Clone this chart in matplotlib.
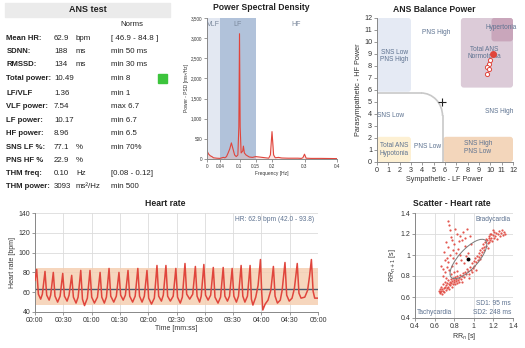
import numpy as np
import matplotlib
matplotlib.use('Agg')
import matplotlib.pyplot as plt
from matplotlib.patches import FancyBboxPatch, Ellipse, Arc, Rectangle

plt.rcParams['font.family'] = ['Liberation Sans', 'DejaVu Sans']

# ---- table data ----
labels = ['Mean HR:', 'SDNN:', 'RMSSD:', 'Total power:', 'LF/VLF', 'VLF power:',
          'LF power:', 'HF power:', 'SNS LF %:', 'PNS HF %', 'THM freq:', 'THM power:']
values = ['62.9', '188', '134', '10.49', '1.36', '7.54', '10.17', '8.96',
          '77.1', '22.9', '0.10', '3093']
units = ['bpm', 'ms', 'ms', '', '', '', '', '', '%', '%', 'Hz', 'ms²/Hz']
norms = ['[ 46.9 - 84.8 ]', 'min 50 ms', 'min 30 ms', 'min 8', 'min 1', 'max 6.7',
         'min 6.7', 'min 6.5', 'min 70%', '', '[0.08 - 0.12]', 'min 500']

# ---- PSD ----
freq = [0, 0.005, 0.01, 0.015, 0.02, 0.03, 0.04, 0.05, 0.055, 0.06, 0.065, 0.07,
        0.075, 0.08, 0.085, 0.09, 0.095, 0.098, 0.1, 0.102, 0.105, 0.11, 0.112,
        0.115, 0.12, 0.13, 0.14, 0.15, 0.16, 0.17, 0.18, 0.19, 0.195, 0.2, 0.205,
        0.21, 0.22, 0.23, 0.25, 0.28, 0.29, 0.295, 0.3, 0.305, 0.32, 0.35, 0.4]
psd = [200, 120, 80, 60, 30, 20, 15, 40, 30, 60, 150, 250, 400, 250, 100, 60, 100,
       800, 3110, 800, 150, 200, 320, 150, 100, 50, 40, 60, 50, 40, 30, 20, 100, 680,
       100, 30, 40, 25, 20, 20, 15, 30, 120, 20, 15, 15, 10]
psd_bands = [('VLF', 0, 0.04, '#e3e8f2'), ('LF', 0.04, 0.15, '#b1c2da'), ('HF', 0.15, 0.4, 'white')]

# ---- ANS balance ----
ans_regions = [  # x0, y0, x1, y1, color
    (0, 5.85, 3.0, 12, '#e5eaf4'),
    (7.4, 6.2, 12, 12, '#dccbd8'),
    (10.1, 10.05, 12, 12, '#c9a6bb'),
    (0, 0, 3.0, 2.1, '#fdf0d3'),
    (5.85, 0, 12, 2.1, '#f3d6bb'),
]
ans_labels = [('SNS Low\nPNS High', 1.55, 8.85), ('PNS High', 5.25, 10.8),
              ('Hypertonia', 11.0, 11.2), ('Total ANS\nNormotonia', 9.5, 9.1),
              ('SNS Low', 1.2, 3.85), ('SNS High', 10.8, 4.2),
              ('Total ANS\nHypotonia', 1.5, 1.05), ('PNS Low', 4.45, 1.25),
              ('SNS High\nPNS Low', 8.9, 1.2)]
ans_now = (10.26, 8.97)
ans_prev_x = [9.97, 9.85, 9.68, 9.88, 9.73]
ans_prev_y = [8.50, 8.20, 7.94, 7.72, 7.31]

# ---- heart rate ----
hr_t = [0, 1.8, 3.6, 6, 7.8,
        10.6, 12.4, 15, 16.6,
        19.4, 21.2, 24, 26.6,
        29.4, 31.2, 34, 36.1,
        38.9, 40.7, 43.5, 45.7,
        48.5, 50.3, 52.5, 55.5,
        58.3, 60.1, 63, 66.2,
        69, 70.8, 73.5, 75.7,
        78.5, 80.3, 83.5, 86.2,
        89, 90.8, 93.5, 95.8,
        98.6, 100.4, 103.5, 106.2,
        109, 110.8, 113.5, 115.9,
        118.7, 120.5, 123.5, 126.5,
        129.3, 131.1, 134, 136,
        138.8, 140.6, 143.5, 146.5,
        149.3, 151.1, 154, 156.2,
        159, 160.8, 164, 167.2,
        170, 171.8, 174.5, 176.2,
        179, 180.8, 183.5, 186.2,
        189, 190.8, 194, 196.7,
        199.5, 201.3, 204, 206.2,
        209, 210.8, 213.5, 215.7,
        218.5, 220.3, 222.5, 225.2,
        228, 229.4, 231, 234, 236.5,
        239, 240.3, 241.5, 244, 247, 250,
        252.7, 254.5, 257, 260, 262,
        265, 266.8, 269.5, 272.5, 275,
        278, 279.8, 282, 286, 289, 291,
        293, 294.8, 296.5, 300]
hr = [72, 83, 58, 53, 58,
      81, 57, 52, 57,
      80, 56, 50, 56,
      79, 56, 51, 57,
      77, 55, 49, 55,
      82, 53, 46.5, 54,
      82, 55, 49, 55,
      80, 55, 49, 55,
      84, 56, 50, 56,
      80, 57, 52, 57,
      82, 56, 50, 56,
      84, 56, 50, 56,
      82, 54, 48, 54,
      87, 56, 51, 57,
      87, 56, 51, 56,
      84, 55, 49, 55,
      89, 58, 53, 58,
      86, 56, 50, 56,
      88, 57, 52, 57,
      85, 55, 49, 55,
      85, 56, 51, 56,
      84, 56, 50, 56,
      87, 56, 50, 56,
      87, 53, 47, 55, 67,
      93, 60, 42, 48, 52, 62,
      86, 56, 49, 52, 62,
      90, 57, 51, 54, 64,
      89, 59, 54, 55, 62, 76,
      93, 61, 54, 54]
hr_mean = 62.9
hr_norm = (46.9, 84.8)

# ---- Poincare scatter ----
rr_pts = [
    (0.64, 0.66), (0.65, 0.64), (0.66, 0.68), (0.66, 0.65), (0.67, 0.70), (0.67, 0.66),
    (0.68, 0.63), (0.68, 0.68), (0.69, 0.72), (0.69, 0.66), (0.70, 0.69), (0.70, 0.65),
    (0.71, 0.74), (0.71, 0.70), (0.72, 0.67), (0.72, 0.71), (0.73, 0.69), (0.73, 0.73),
    (0.74, 0.76), (0.74, 0.70), (0.75, 0.72), (0.75, 0.68), (0.76, 0.74), (0.76, 0.71),
    (0.77, 0.77), (0.77, 0.73), (0.78, 0.70), (0.78, 0.75), (0.79, 0.72), (0.79, 0.78),
    (0.80, 0.74), (0.80, 0.76), (0.81, 0.72), (0.81, 0.79), (0.82, 0.75), (0.82, 0.77),
    (0.83, 0.73), (0.83, 0.80), (0.84, 0.76), (0.85, 0.78), (0.85, 0.74), (0.86, 0.81),
    (0.87, 0.77), (0.88, 0.80), (0.89, 0.83), (0.90, 0.79),
    (0.91, 0.84), (0.92, 0.82), (0.93, 0.87), (0.94, 0.85), (0.95, 0.82), (0.96, 0.89),
    (0.97, 0.86), (0.98, 0.92), (0.99, 0.88), (1.00, 0.94), (1.00, 0.90), (1.01, 0.97),
    (1.02, 0.93), (1.03, 0.99), (1.04, 0.95), (1.05, 1.02), (1.05, 0.98), (1.06, 1.05),
    (1.07, 1.00), (1.08, 1.07), (1.08, 1.03), (1.09, 1.10), (1.10, 1.05), (1.10, 1.08),
    (1.11, 1.12), (1.12, 1.09), (1.13, 1.14), (1.14, 1.11), (1.15, 1.16), (1.15, 1.12),
    (1.16, 1.18), (1.17, 1.14), (1.18, 1.20), (1.18, 1.16), (1.19, 1.13), (1.20, 1.19),
    (1.21, 1.22), (1.21, 1.16), (1.22, 1.18), (1.23, 1.21), (1.24, 1.15), (1.25, 1.20),
    (1.26, 1.23), (1.27, 1.18), (1.28, 1.21), (1.29, 1.24), (1.30, 1.19), (1.31, 1.22),
    (1.32, 1.20), (1.12, 1.15), (1.17, 1.20), (1.20, 1.24), (1.14, 1.07), (1.06, 0.96),
    (0.98, 0.84),
    (0.74, 1.32), (0.75, 1.29), (0.81, 1.25), (0.83, 1.20), (0.89, 1.22), (0.91, 1.16),
    (0.88, 1.14), (0.96, 1.18), (0.77, 1.17), (0.72, 1.12), (0.74, 1.08), (0.70, 1.03),
    (0.76, 1.00), (0.71, 0.95), (0.79, 0.97), (0.67, 0.90), (0.73, 0.89), (0.78, 0.90),
    (0.84, 1.06), (0.86, 1.00), (0.91, 1.09), (0.77, 0.82), (0.83, 0.85), (0.71, 0.84),
    (0.80, 1.10), (0.85, 1.13), (0.93, 1.25), (0.69, 0.80), (0.75, 0.86), (0.82, 0.92),
    (0.87, 0.95), (0.94, 1.02), (0.97, 1.10), (0.72, 0.78), (0.80, 0.84), (0.90, 0.92),
    (0.95, 0.78), (1.02, 0.86), (0.88, 0.74), (0.76, 1.24), (0.79, 1.05), (0.73, 0.97),
    (0.86, 1.18), (0.82, 1.02), (0.69, 0.87), (0.92, 0.99), (0.78, 1.14), (0.74, 0.93),
]
rr_n = [p[0] for p in rr_pts]
rr_n1 = [p[1] for p in rr_pts]
sd1, sd2 = 0.095, 0.248
rr_center = (0.945, 0.962)

W, H = 525, 348
RED = '#e0453c'
TXT = '#222222'
BLUEGRAY = '#5d7290'


def box(l, t, r, b):
    return [l / W, 1 - b / H, (r - l) / W, (b - t) / H]


def fx(x):
    return x / W


def fy(y):
    return 1 - y / H


def style(ax, size=5):
    for s in ['top', 'right']:
        ax.spines[s].set_visible(False)
    for s in ['left', 'bottom']:
        ax.spines[s].set_color('#888888')
        ax.spines[s].set_linewidth(0.7)
    ax.tick_params(labelsize=size, length=2, width=0.6, color='#888888',
                   labelcolor='#333333', pad=1.5)


fig = plt.figure(figsize=(W / 100, H / 100), dpi=100)

# ---------- table ----------
fig.patches.append(Rectangle((fx(5), fy(17)), fx(165), 14 / H, transform=fig.transFigure,
                             color='#ebebeb', zorder=0))
fig.text(fx(88), fy(10), 'ANS test', ha='center', va='center', fontsize=6.5,
         fontweight='bold', color=TXT)
fig.text(fx(132), fy(25), 'Norms', ha='center', va='center', fontsize=5.6, color=TXT)
row_y = [38.3, 51.7, 65, 79, 93.3, 106.7, 120, 134, 147.3, 160.7, 173.7, 186.7]
for y, lab, val, un, nm in zip(row_y, labels, values, units, norms):
    fig.text(fx(6.5), fy(y), lab, ha='left', va='center', fontsize=5.6,
             fontweight='bold', color=TXT)
    fig.text(fx(54), fy(y), val, ha='left', va='center', fontsize=5.7, color=TXT)
    fig.text(fx(76), fy(y), un, ha='left', va='center', fontsize=5.7, color=TXT)
    fig.text(fx(111), fy(y), nm, ha='left', va='center', fontsize=5.7, color=TXT)
fig.patches.append(Rectangle((fx(158), fy(83)), fx(9), 9 / H, transform=fig.transFigure,
                             color='#3cc43c', zorder=1))

# ---------- PSD ----------
ax = fig.add_axes(box(207, 18, 337, 159))
for name, a, b, c in psd_bands:
    ax.axvspan(a, b, color=c, lw=0, zorder=0)
    ax.text((a + b) / 2 if name != 'VLF' else 0.02, 3330, name, ha='center', va='center',
            fontsize=5, color='#7a889c')
ax.fill_between(freq, psd, color='#f4b4ac', alpha=0.35, lw=0)
ax.plot(freq, psd, color=RED, lw=0.8)
ax.set_xlim(0, 0.4)
ax.set_ylim(0, 3500)
ax.set_xticks([0, 0.04, 0.1, 0.15, 0.2, 0.3, 0.4])
ax.set_xticklabels(['0', '0.04', '0.1', '0.15', '0.2', '0.3', '0.4'])
ax.set_yticks(range(0, 3501, 500))
ax.set_yticklabels([f'{v:,}' for v in range(0, 3501, 500)])
style(ax, 3.3)
ax.set_xlabel('Frequency [Hz]', fontsize=3.5, labelpad=1.5, color='#333333')
ax.set_ylabel('Power - PSD [ms²/Hz]', fontsize=3.5, labelpad=1.5, color='#333333')
fig.text(fx(261), fy(8), 'Power Spectral Density', ha='center', va='center',
         fontsize=6.2, fontweight='bold', color=TXT)

# ---------- ANS balance ----------
ax = fig.add_axes(box(377, 18, 513, 162))
for x0, y0, x1, y1, c in ans_regions:
    ax.add_patch(FancyBboxPatch((x0, y0), x1 - x0, y1 - y0,
                                boxstyle='round,pad=0,rounding_size=0.25',
                                fc=c, ec='none', zorder=0))
r = 1.9
ax.plot([0, 5.78 - r], [5.75, 5.75], color='#c8c8c8', lw=1.2)
ax.plot([5.78, 5.78], [5.75 - r, 0], color='#c8c8c8', lw=1.2)
ax.add_patch(Arc((5.78 - r, 5.75 - r), 2 * r, 2 * r, theta1=0, theta2=90,
                 color='#c8c8c8', lw=1.2))
for txt, x, y in ans_labels:
    ax.text(x, y, txt, ha='center', va='center', fontsize=4.7, color=BLUEGRAY,
            linespacing=1.1)
ax.plot([5.76], [5.02], marker='+', color='#222222', ms=6, mew=0.8)
ax.plot(ans_prev_x, ans_prev_y, color='#f08a84', lw=0.6, zorder=3)
ax.plot(ans_prev_x, ans_prev_y, 'o', mfc='white', mec=RED, ms=3, mew=0.7, zorder=4)
ax.plot([ans_now[0]], [ans_now[1]], 'o', color=RED, ms=4, zorder=5)
ax.set_xlim(0, 12)
ax.set_ylim(0, 12)
ax.set_xticks(range(13))
ax.set_yticks(range(13))
style(ax, 5.2)
ax.set_xlabel('Sympathetic - LF Power', fontsize=5.2, labelpad=1.5, color='#333333')
ax.set_ylabel('Parasympathetic - HF Power', fontsize=5.2, labelpad=1.5, color='#333333')
fig.text(fx(434), fy(9), 'ANS Balance Power', ha='center', va='center',
         fontsize=6.2, fontweight='bold', color=TXT)

# ---------- heart rate ----------
ax = fig.add_axes(box(35, 213, 318, 312))
ax.grid(True, color='#dcdcdc', lw=0.6)
ax.set_axisbelow(True)
ax.axhspan(hr_norm[0], hr_norm[1], color='#f5cfb2', alpha=0.85, lw=0, zorder=1)
ax.axhline(hr_mean, color='#4b5a6c', lw=1.0, zorder=2)
ax.plot(hr_t, hr, color=RED, lw=1.1, zorder=3)
ax.set_xlim(0, 300)
ax.set_ylim(40, 140)
ax.set_xticks(range(0, 301, 30))
ax.set_xticklabels([f'{s // 60:02d}:{s % 60:02d}' for s in range(0, 301, 30)])
ax.set_yticks(range(40, 141, 20))
style(ax, 5)
ax.set_xlabel('Time [mm:ss]', fontsize=5, labelpad=1, color='#333333')
ax.set_ylabel('Heart rate [bpm]', fontsize=5, labelpad=1.5, color='#333333')
ax.text(296, 133, 'HR: 62.9 bpm (42.0 - 93.8)', ha='right', va='center', fontsize=4.8,
        color=BLUEGRAY)
fig.text(fx(165), fy(204), 'Heart rate', ha='center', va='center', fontsize=6.2,
         fontweight='bold', color=TXT)

# ---------- scatter ----------
ax = fig.add_axes(box(415, 213, 513, 318))
ax.grid(True, color='#dcdcdc', lw=0.6)
ax.set_axisbelow(True)
ax.plot(rr_n, rr_n1, 'o', color=RED, ms=1.6, mew=0, alpha=0.9)
ax.add_patch(Ellipse(rr_center, 2 * sd2, 2 * sd1, angle=45, fill=False,
                     ec='#7a7a7a', lw=0.7, zorder=4))
ax.plot([rr_center[0]], [rr_center[1]], 'o', color='black', ms=1.8, zorder=5)
ax.set_xlim(0.4, 1.4)
ax.set_ylim(0.4, 1.4)
ticks = [0.4, 0.6, 0.8, 1.0, 1.2, 1.4]
tl = ['0.4', '0.6', '0.8', '1', '1.2', '1.4']
ax.set_xticks(ticks)
ax.set_xticklabels(tl)
ax.set_yticks(ticks)
ax.set_yticklabels(tl)
style(ax, 5)
ax.set_xlabel('RR$_n$ [s]', fontsize=5, labelpad=1, color='#333333')
ax.set_ylabel('RR$_{n+1}$ [s]', fontsize=5, labelpad=1.5, color='#333333')
ax.text(1.38, 1.37, 'Bradycardia', ha='right', va='top', fontsize=4.8, color=BLUEGRAY)
ax.text(0.42, 0.42, 'Tachycardia', ha='left', va='bottom', fontsize=4.8, color=BLUEGRAY)
ax.text(1.38, 0.42, f'SD1: {sd1 * 1000:.0f} ms\nSD2: {sd2 * 1000:.0f} ms', ha='right',
        va='bottom', fontsize=4.8, color=BLUEGRAY, linespacing=1.3)
fig.text(fx(452), fy(204), 'Scatter - Heart rate', ha='center', va='center',
         fontsize=6.2, fontweight='bold', color=TXT)

fig.savefig('out.png', dpi=100)
